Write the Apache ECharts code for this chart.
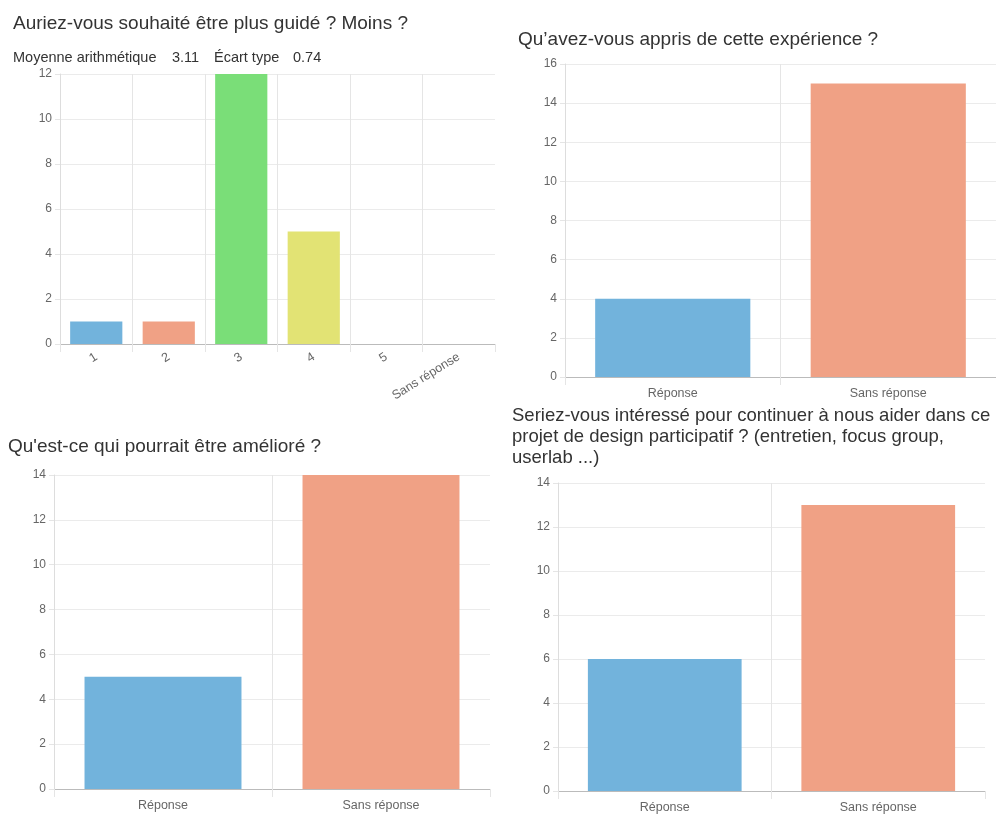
<!DOCTYPE html>
<html><head><meta charset="utf-8">
<script src="https://cdn.jsdelivr.net/npm/echarts@6/dist/echarts.min.js"></script>
<style>html,body{margin:0;padding:0;background:#fff}#c{width:996px;height:814px}</style>
</head><body><div id="c"></div>
<script>
const cats1 = ['1','2','3','4','5','Sans réponse'];
const vals1 = [1,1,12,5,0,0];
const cats2 = ['Réponse','Sans réponse'];
const vals2 = [4,15];
const cats3 = ['Réponse','Sans réponse'];
const vals3 = [5,14];
const cats4 = ['Réponse','Sans réponse'];
const vals4 = [6,13];
const statLabels = ['Moyenne arithmétique','3.11','Écart type','0.74'];
const colors1 = ['#72b3dc','#f0a185','#7ade78','#e2e374','#72b3dc','#f0a185'];
const colors2 = ['#72b3dc','#f0a185'];

const FONT = 'Liberation Sans, Arial, sans-serif';
const grids = [
  {left:60, top:74, width:435, height:270},
  {left:565, top:64, width:431, height:313},
  {left:54, top:475, width:436, height:314},
  {left:558, top:483, width:427, height:309}
];
const maxes = [12,16,14,14];
const catsAll = [cats1,cats2,cats3,cats4];
const valsAll = [vals1,vals2,vals3,vals4];
const colAll = [colors1,colors2,colors2,colors2];
const TS = {fontFamily:FONT,fontSize:19,fontWeight:'normal',color:'#333'};
const SS = {fontFamily:FONT,fontSize:14.5,fontWeight:'normal',color:'#333'};
const statX = [13,172,214,293];

const option = {
  animation:false,
  textStyle:{fontFamily:FONT},
  title:[
    {text:'Auriez-vous souhaité être plus guidé ? Moins ?', left:13, top:14, padding:0, textStyle:TS},
    ...statLabels.map((s,k)=>({text:s, left:statX[k], top:50, padding:0, textStyle:SS})),
    {text:'Qu’avez-vous appris de cette expérience ?', left:518, top:30, padding:0, textStyle:TS},
    {text:'Qu\'est-ce qui pourrait être amélioré ?', left:8, top:437, padding:0, textStyle:TS},
    {text:'Seriez-vous intéressé pour continuer à nous aider dans ce\nprojet de design participatif ? (entretien, focus group,\nuserlab ...)', left:512, top:405, padding:0, textStyle:Object.assign({},TS,{fontSize:18.5,lineHeight:21})}
  ],
  grid: grids.map(g=>Object.assign({containLabel:false},g)),
  xAxis: catsAll.map((c,i)=>({
    type:'category', gridIndex:i, data:c, boundaryGap:true,
    axisLine:{show:true,lineStyle:{color:'#bbb'}},
    axisTick:{show:true,length:8,lineStyle:{color:'#e5e5e5'}},
    splitLine:{show:true,showMaxLine:false,lineStyle:{color:'#e5e5e5'}},
    axisLabel:{color:'#666',fontSize:12.5,fontFamily:FONT,margin: i===0?12:10, rotate: i===0?32:0, interval:0}
  })),
  yAxis: maxes.map((m,i)=>({
    type:'value', gridIndex:i, min:0, max:m, interval:2,
    axisLine:{show:true,lineStyle:{color:'#dddddd'}},
    axisTick:{show:true,length:5,lineStyle:{color:'#e5e5e5'}},
    splitLine:{show:true,lineStyle:{color:'#ebebeb'}},
    axisLabel:{color:'#666',fontSize:12,fontFamily:FONT,margin:8}
  })),
  series: valsAll.map((v,i)=>({
    type:'bar', xAxisIndex:i, yAxisIndex:i, barWidth:'72%',
    data: v.map((y,j)=>({value:y,itemStyle:{color:colAll[i][j]}}))
  }))
};
const chart = echarts.init(document.getElementById('c'));
chart.setOption(option);
</script></body></html>
